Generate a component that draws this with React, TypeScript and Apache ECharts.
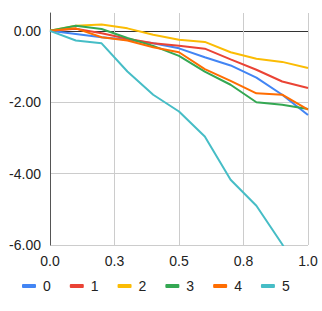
import React, { useEffect, useRef } from "react";
import * as echarts from "echarts";

const xValues = [0, 0.1, 0.2, 0.3, 0.4, 0.5, 0.6, 0.7, 0.8, 0.9, 1.0];
const seriesNames = ["0", "1", "2", "3", "4", "5"];
const s0 = [0, -0.09, -0.18, -0.25, -0.35, -0.49, -0.74, -0.97, -1.31, -1.79, -2.36];
const s1 = [0, 0.06, -0.07, -0.22, -0.35, -0.42, -0.5, -0.8, -1.09, -1.42, -1.6];
const s2 = [0, 0.14, 0.18, 0.07, -0.11, -0.25, -0.31, -0.6, -0.78, -0.87, -1.04];
const s3 = [0, 0.14, 0.05, -0.2, -0.42, -0.7, -1.14, -1.51, -2.0, -2.07, -2.19];
const s4 = [0, 0.07, -0.18, -0.27, -0.46, -0.6, -1.07, -1.4, -1.75, -1.79, -2.21];
const s5 = [0, -0.27, -0.35, -1.14, -1.79, -2.26, -2.96, -4.17, -4.9, -5.98, -7.2];
const seriesValues = [s0, s1, s2, s3, s4, s5];
const colors = ["#4285F4", "#EA4335", "#FBBC04", "#34A853", "#FF6D01", "#46BDC6"];

const FONT = "'Liberation Sans', Arial, sans-serif";

export default function App() {
  const ref = useRef<HTMLDivElement>(null);
  useEffect(() => {
    if (!ref.current) return;
    document.body.style.margin = "0";
    const chart = echarts.init(ref.current, undefined, { renderer: "svg" });
    chart.setOption({
      animation: false,
      color: colors,
      textStyle: { fontFamily: FONT },
      grid: { left: 50, right: 14, top: 13, bottom: 66, containLabel: false },
      xAxis: {
        type: "value",
        min: 0,
        max: 1,
        interval: 0.25,
        axisLine: { show: false, onZero: false },
        axisTick: { show: false },
        axisLabel: {
          color: "#222",
          fontSize: 14,
          fontFamily: FONT,
          margin: 9,
          formatter: (v: number) => v.toFixed(1),
        },
        splitLine: { show: true, lineStyle: { color: "#cccccc", width: 1 } },
      },
      yAxis: {
        type: "value",
        min: -6,
        max: 0.5,
        interval: 2,
        axisLine: { show: true, lineStyle: { color: "#555", width: 1 } },
        axisTick: { show: false },
        axisLabel: {
          color: "#222",
          fontSize: 14,
          fontFamily: FONT,
          margin: 9,
          showMaxLabel: false,
          formatter: (v: number) => v.toFixed(2),
        },
        splitLine: {
          show: true,
          showMaxLine: false,
          lineStyle: { color: ["#cccccc", "#cccccc", "#cccccc", "#333333", "rgba(0,0,0,0)"], width: 1 },
        },
      },
      legend: {
        top: 279,
        left: 22,
        padding: 0,
        icon: "roundRect",
        itemWidth: 14,
        itemHeight: 4,
        itemGap: 19,
        textStyle: { color: "#222", fontSize: 14, fontFamily: FONT, padding: [0, 0, 0, 2] },
        data: seriesNames,
      },
      series: seriesNames.map((name, i) => ({
        name,
        type: "line",
        data: xValues.map((x, j) => [x, seriesValues[i][j]]),
        showSymbol: false,
        symbol: "none",
        lineStyle: { width: 2, color: colors[i] },
        itemStyle: { color: colors[i] },
        clip: true,
      })),
    });
    return () => chart.dispose();
  }, []);
  return <div ref={ref} style={{ width: 322, height: 311 }} />;
}
